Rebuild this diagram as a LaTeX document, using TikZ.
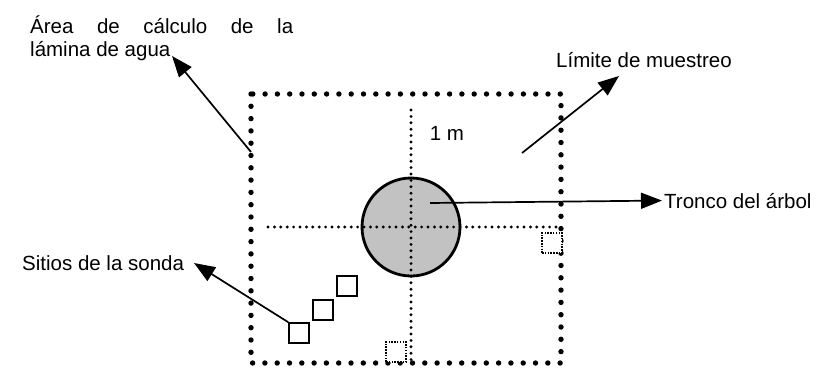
\documentclass[tikz,border=0pt]{standalone}
\usepackage{fontspec}
\setmainfont{Liberation Sans}
\usetikzlibrary{arrows.meta}

\newcommand{\lblfont}{\fontsize{20.5}{23}\selectfont}

\begin{document}
\begin{tikzpicture}[
    x=1pt, y=-1pt,
    >={Triangle[length=21pt,width=16pt]},
    arrow/.style={
        ->,
        line width=1.7pt,
        black,
    },
    label/.style={
        inner sep=0pt,
        anchor=base west,
        font=\lblfont,
    },
    bigdots/.style={
        line width=5.4pt,
        line cap=round,
        dash pattern=on 0pt off 12.3pt,
    },
    smalldots/.style={
        line width=3.2pt,
        line cap=round,
        dash pattern=on 0pt off 6.4pt,
    },
    probe/.style={
        rectangle,
        draw,
        line width=1.7pt,
        minimum size=20pt,
        inner sep=0pt,
        fill=white,
    },
    probe_dot/.style={
        probe,
        line width=1.4pt,
        dash pattern=on 1.5pt off 1.3pt,
    },
    trunk/.style={
        circle,
        draw,
        line width=2.8pt,
        fill=black!24,
        minimum size=98pt,
        inner sep=0pt,
    },
]
    \useasboundingbox (0,0) rectangle (818,369);

    % Sampling limit
    \coordinate (bnw) at (251,94);
    \coordinate (bse) at (561,363);
    \draw[bigdots] (bnw) rectangle (bse);

    % Tree trunk
    \node[trunk] (tree) at (411,227) {};

    % Centre cross
    \coordinate (vtop) at (411,110);
    \coordinate (vbot) at (411,363);
    \coordinate (hleft) at (268,227);
    \coordinate (hright) at (558,227);
    \draw[smalldots] (vtop) -- (vbot);
    \draw[smalldots] (hleft) -- (hright);

    \node[font=\lblfont] (onem) at (447,133) {1 m};

    % Probe sites
    \node[probe] (p1) at (299,333) {};
    \node[probe] (p2) at (323,310) {};
    \node[probe] (p3) at (347,286) {};
    \node[probe_dot] (p4) at (552,243) {};
    \node[probe_dot] (p5) at (396,352) {};

    % Labels
    \node[label, anchor=north west, align=left] (area) at (30,16)
        {\makebox[263pt][s]{Área de cálculo de la}\\lámina de agua};
    \node[label] (limite) at (556,67) {Límite de muestreo};
    \node[label] (tronco) at (664,208) {Tronco del árbol};
    \node[label] (sitios) at (22,270) {Sitios de la sonda};

    % Arrows
    \coordinate (areafrom) at (251,152);
    \coordinate (areato) at (172,56);
    \coordinate (limfrom) at (522,153);
    \coordinate (limto) at (619,76);
    \coordinate (trunkin) at (430,203);
    \coordinate (sitiosto) at (194,263);

    \draw[arrow] (areafrom) -- (areato);
    \draw[arrow] (limfrom) -- (limto);
    \draw[arrow] (trunkin) -- ([xshift=-2pt]tronco.west);
    \draw[arrow] (p1.north west) -- (sitiosto);

\end{tikzpicture}
\end{document}
